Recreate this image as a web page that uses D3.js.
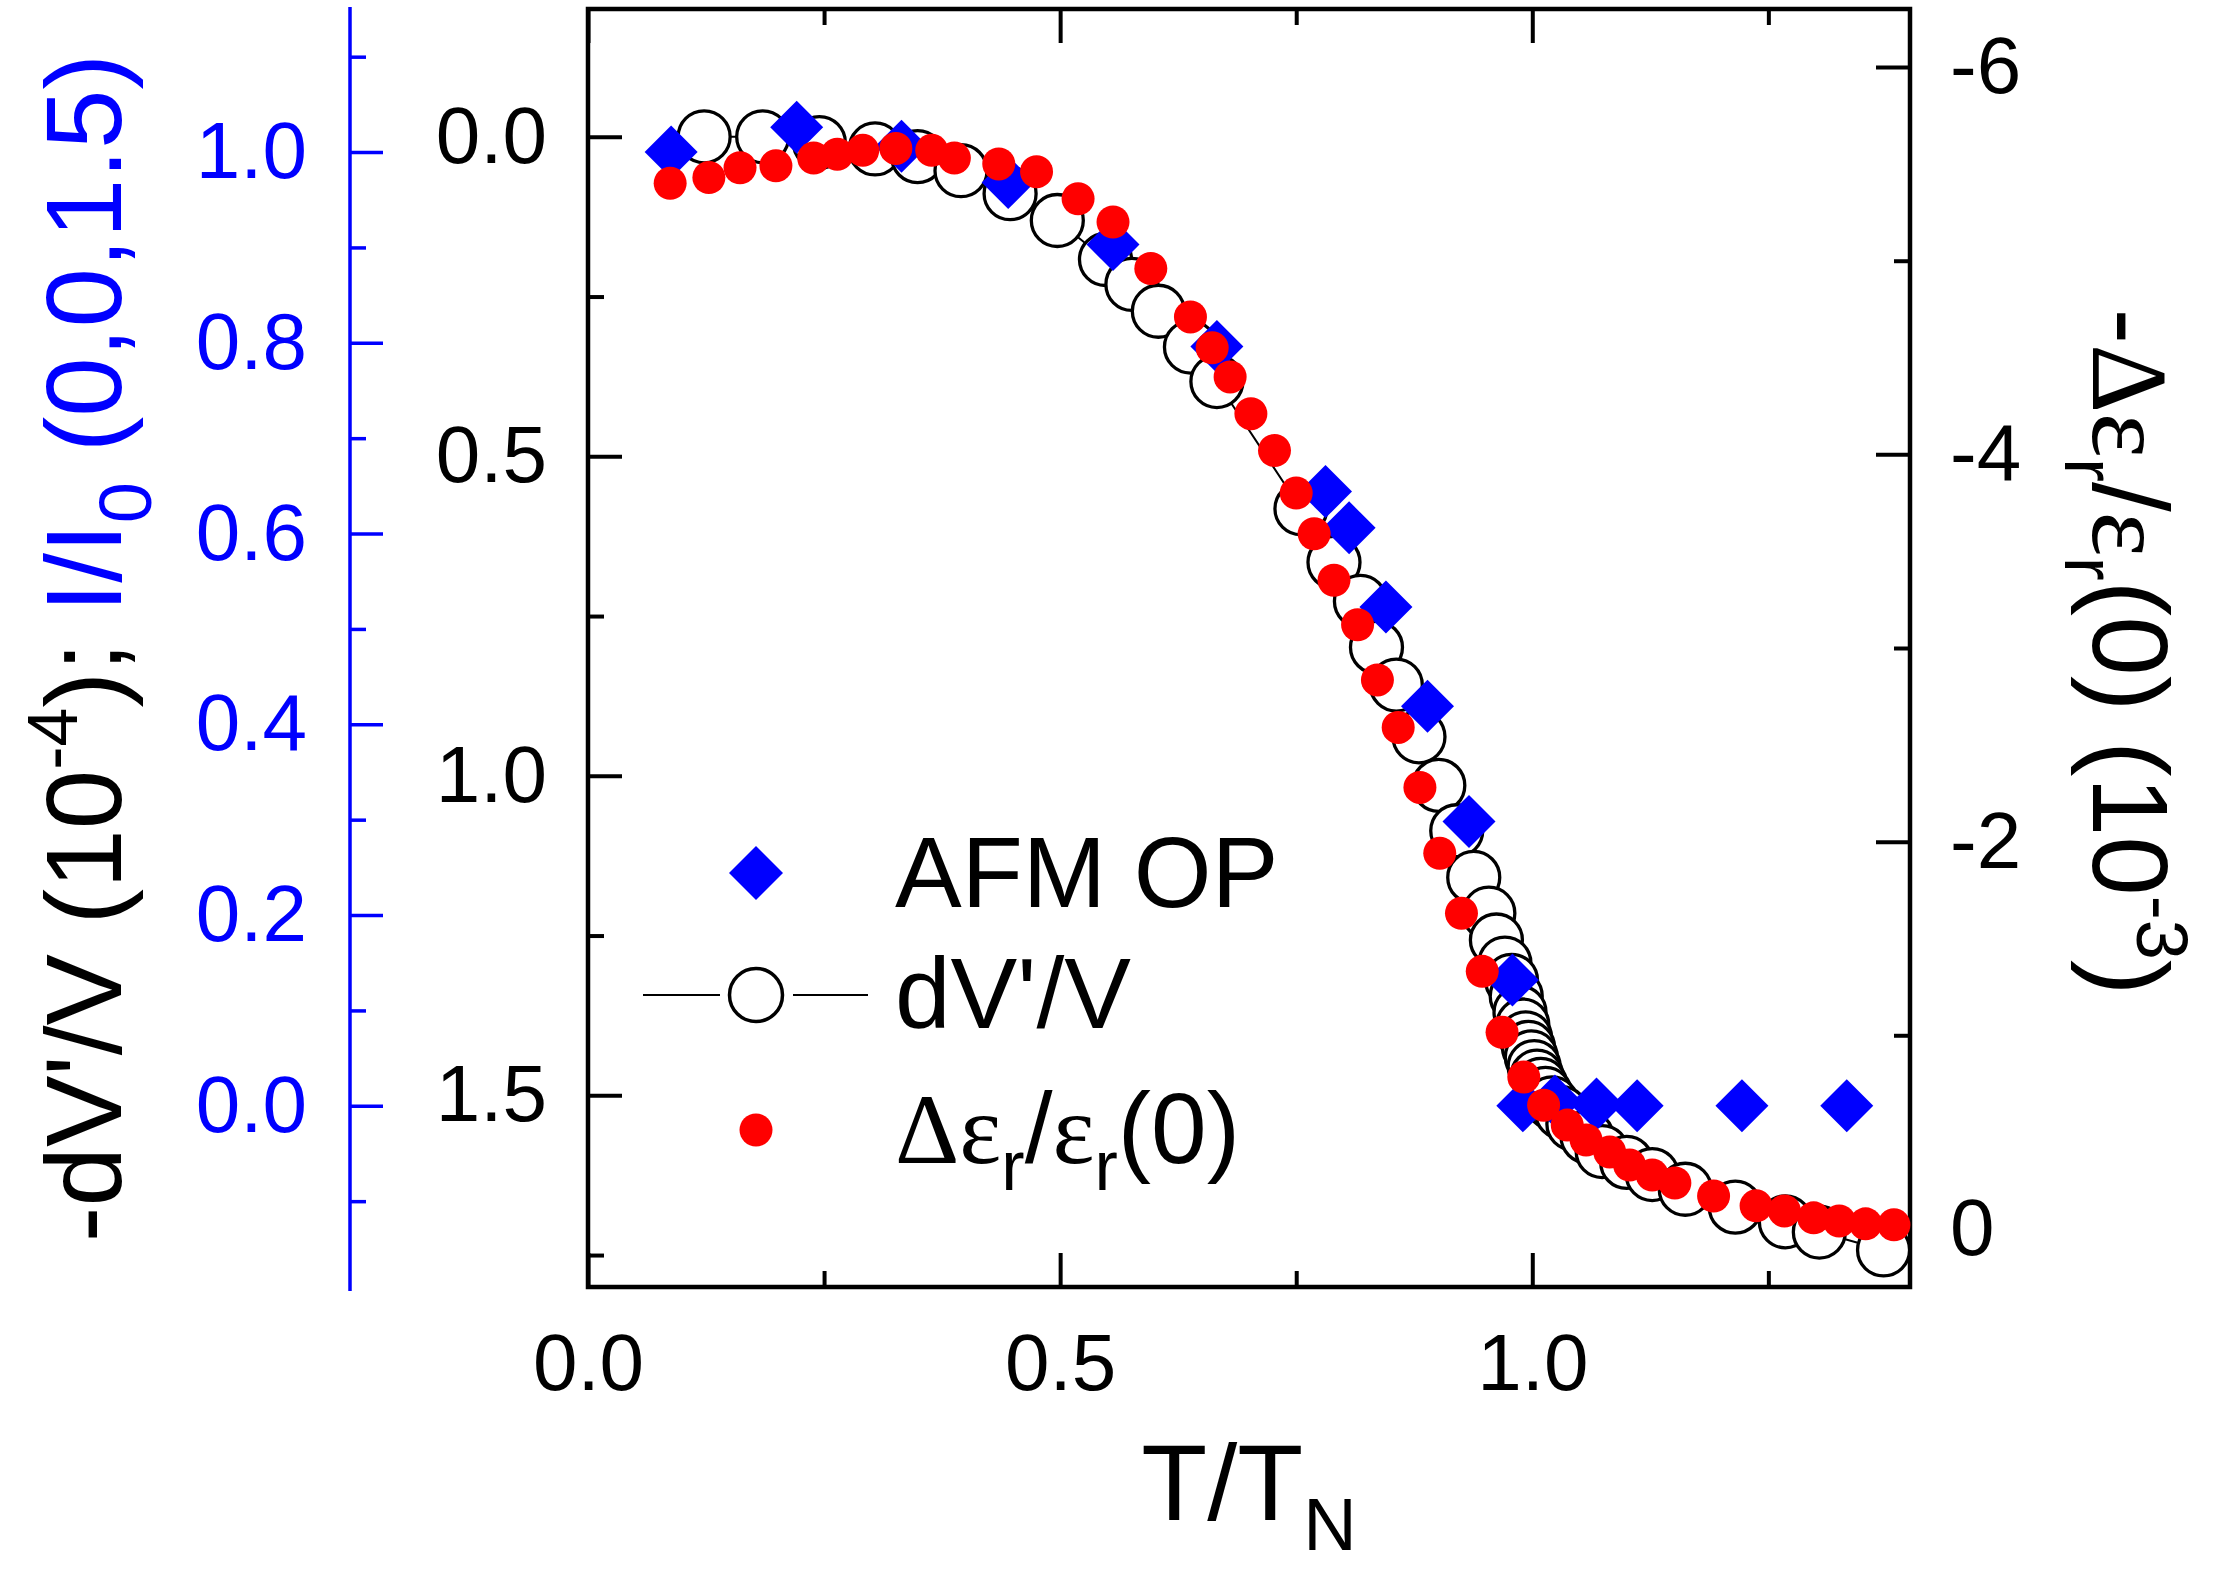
<!DOCTYPE html>
<html>
<head>
<meta charset="utf-8">
<script src="https://cdn.jsdelivr.net/npm/d3@7"></script>
<style>
  html, body { margin: 0; padding: 0; background: #fff; }
  text { white-space: pre; }
</style>
</head>
<body>
<svg id="chart" width="2214" height="1573"></svg>
<script>
// ---------------- data ----------------
// dV'/V  (open circles + line), left black axis: -dV'/V (10^-4)
const dvT   = [0.123,0.185,0.245,0.304,0.349,0.395,0.447,0.497,0.548,0.576,
               0.604,0.638,0.666,0.755,0.790,0.818,0.835,0.856,0.880,0.901,
               0.920,0.938,0.954,0.962,0.971,0.978,0.983,0.987,0.990,0.993,
               0.996,0.999,1.002,1.005,1.009,1.014,1.021,1.031,1.043,1.058,
               1.074,1.100,1.127,1.162,1.215,1.268,1.304,1.372];
const dvVal = [0.000,0.000,0.009,0.019,0.031,0.053,0.089,0.131,0.192,0.231,
               0.273,0.329,0.383,0.582,0.666,0.727,0.799,0.858,0.939,1.015,
               1.086,1.159,1.215,1.257,1.293,1.320,1.345,1.370,1.390,1.410,
               1.425,1.440,1.455,1.470,1.483,1.497,1.512,1.527,1.545,1.565,
               1.588,1.605,1.624,1.647,1.675,1.698,1.714,1.742];

// AFM OP (blue diamonds), blue axis: I/I0 (0,0,1.5)
const afmT   = [0.088,0.221,0.332,0.445,0.556,0.666,0.781,0.806,0.845,0.889,
                0.933,0.979,0.990,1.024,1.068,1.111,1.222,1.333];
const afmVal = [1.000,1.026,1.006,0.968,0.903,0.796,0.644,0.606,0.523,0.419,
                0.298,0.132,0.000,0.005,0.002,0.000,0.000,0.000];

// Δε_r/ε_r(0) (red dots), right axis (10^-3)
const epsT   = [0.087,0.128,0.161,0.199,0.239,0.264,0.291,0.326,0.364,0.388,
                0.435,0.475,0.519,0.556,0.596,0.638,0.661,0.680,0.702,0.727,
                0.750,0.769,0.790,0.815,0.836,0.858,0.881,0.902,0.925,0.947,
                0.968,0.991,1.012,1.037,1.057,1.082,1.103,1.127,1.151,1.192,
                1.237,1.267,1.298,1.325,1.353,1.383];
const epsVal = [-5.40,-5.43,-5.48,-5.49,-5.53,-5.55,-5.57,-5.58,-5.57,-5.53,
                -5.50,-5.46,-5.32,-5.20,-4.96,-4.71,-4.55,-4.40,-4.21,-4.02,
                -3.80,-3.59,-3.35,-3.12,-2.835,-2.59,-2.28,-1.94,-1.63,-1.33,
                -1.015,-0.784,-0.639,-0.536,-0.459,-0.397,-0.330,-0.278,-0.237,-0.170,
                -0.119,-0.093,-0.057,-0.041,-0.026,-0.021];

// ticks
const xMajor = [0, 0.5, 1.0];
const xMajorLabels = ["0.0", "0.5", "1.0"];
const xMinor = [0.25, 0.75, 1.25];
const leftMajor = [0, 0.5, 1.0, 1.5];
const leftMajorLabels = ["0.0", "0.5", "1.0", "1.5"];
const leftMinor = [0.25, 0.75, 1.25, 1.75];
const blueMajor = [0, 0.2, 0.4, 0.6, 0.8, 1.0];
const blueMajorLabels = ["0.0", "0.2", "0.4", "0.6", "0.8", "1.0"];
const blueMinor = [-0.1, 0.1, 0.3, 0.5, 0.7, 0.9, 1.1];
const rightMajor = [-6, -4, -2, 0];
const rightMajorLabels = ["-6", "-4", "-2", "0"];
const rightMinor = [-5, -3, -1];

const legendLabels = ["AFM OP", "dV'/V", "Δε_r/ε_r(0)"];

// ---------------- layout ----------------
const SANS = "'Liberation Sans', Arial, Helvetica, sans-serif";
const SERIF = "'Liberation Serif', 'Times New Roman', serif";
const BLUE = "#0000ff", RED = "#ff0000";
const P = { l: 588, r: 1910, t: 9, b: 1287 };

const svg = d3.select("#chart");
svg.append("rect").attr("width", 2214).attr("height", 1573).attr("fill", "#fff");

const x  = d3.scaleLinear().domain([0, 1.4]).range([P.l, P.r]);
const yL = d3.scaleLinear().domain([-0.2, 1.8]).range([P.t, P.b]);
const yB = d3.scaleLinear().domain([-0.19, 1.15]).range([P.b, P.t]);
const yR = d3.scaleLinear().domain([-6.3, 0.3]).range([P.t, P.b]);

function fmtFrom(vals, labels) {
  return v => { const i = vals.findIndex(a => Math.abs(a - v) < 1e-9); return i >= 0 ? labels[i] : ""; };
}
function styleAxis(g, color, sw) {
  g.select(".domain").remove();
  g.selectAll(".tick line").attr("stroke", color).attr("stroke-width", sw);
  g.selectAll(".tick text").attr("fill", color).attr("font-size", 80).attr("font-family", SANS);
  g.attr("font-size", 80).attr("font-family", SANS);
}

// ---- blue offset axis ----
const BX = 350;
svg.append("line").attr("x1", BX).attr("x2", BX).attr("y1", 7).attr("y2", 1291)
  .attr("stroke", BLUE).attr("stroke-width", 3.5);
svg.append("g").attr("transform", `translate(${BX},0)`)
  .call(d3.axisLeft(yB).tickValues(blueMajor).tickSize(-33).tickPadding(43)
        .tickFormat(fmtFrom(blueMajor, blueMajorLabels)))
  .call(g => styleAxis(g, BLUE, 3.5));
svg.append("g").attr("transform", `translate(${BX},0)`)
  .call(d3.axisLeft(yB).tickValues(blueMinor).tickSize(-16).tickFormat(""))
  .call(g => styleAxis(g, BLUE, 3.5));

// ---- frame axes ----
const TS = 4;
svg.append("g").attr("transform", `translate(0,${P.b})`)
  .call(d3.axisBottom(x).tickValues(xMajor).tickSize(-34).tickPadding(46)
        .tickFormat(fmtFrom(xMajor, xMajorLabels)))
  .call(g => styleAxis(g, "#000", TS));
svg.append("g").attr("transform", `translate(0,${P.b})`)
  .call(d3.axisBottom(x).tickValues(xMinor).tickSize(-16).tickFormat(""))
  .call(g => styleAxis(g, "#000", TS));
svg.append("g").attr("transform", `translate(0,${P.t})`)
  .call(d3.axisTop(x).tickValues(xMajor).tickSize(-34).tickFormat(""))
  .call(g => styleAxis(g, "#000", TS));
svg.append("g").attr("transform", `translate(0,${P.t})`)
  .call(d3.axisTop(x).tickValues(xMinor).tickSize(-16).tickFormat(""))
  .call(g => styleAxis(g, "#000", TS));
svg.append("g").attr("transform", `translate(${P.l},0)`)
  .call(d3.axisLeft(yL).tickValues(leftMajor).tickSize(-34).tickPadding(41)
        .tickFormat(fmtFrom(leftMajor, leftMajorLabels)))
  .call(g => styleAxis(g, "#000", TS));
svg.append("g").attr("transform", `translate(${P.l},0)`)
  .call(d3.axisLeft(yL).tickValues(leftMinor).tickSize(-16).tickFormat(""))
  .call(g => styleAxis(g, "#000", TS));
svg.append("g").attr("transform", `translate(${P.r},0)`)
  .call(d3.axisRight(yR).tickValues(rightMajor).tickSize(-34).tickPadding(40)
        .tickFormat(fmtFrom(rightMajor, rightMajorLabels)))
  .call(g => styleAxis(g, "#000", TS));
svg.append("g").attr("transform", `translate(${P.r},0)`)
  .call(d3.axisRight(yR).tickValues(rightMinor).tickSize(-16).tickFormat(""))
  .call(g => styleAxis(g, "#000", TS));

svg.append("rect").attr("x", P.l).attr("y", P.t).attr("width", P.r - P.l).attr("height", P.b - P.t)
  .attr("fill", "none").attr("stroke", "#000").attr("stroke-width", 4.5);

// ---------------- data marks ----------------
const dvData  = dvT.map((t, i) => ({ t, v: dvVal[i] }));
const afmData = afmT.map((t, i) => ({ t, v: afmVal[i] }));
const epsData = epsT.map((t, i) => ({ t, v: epsVal[i] }));

const CR = 26, DH = 26.5, RR = 16.5;
const diamond = h => `M0,${-h}L${h},0L0,${h}L${-h},0Z`;

svg.append("path").datum(dvData)
  .attr("d", d3.line().x(d => x(d.t)).y(d => yL(d.v)))
  .attr("fill", "none").attr("stroke", "#000").attr("stroke-width", 2);
svg.append("g").selectAll("circle").data(dvData).join("circle")
  .attr("cx", d => x(d.t)).attr("cy", d => yL(d.v)).attr("r", CR)
  .attr("fill", "#fff").attr("stroke", "#000").attr("stroke-width", 3.3);
svg.append("g").selectAll("path").data(afmData).join("path")
  .attr("transform", d => `translate(${x(d.t)},${yB(d.v)})`)
  .attr("d", diamond(DH)).attr("fill", BLUE);
svg.append("g").selectAll("circle").data(epsData).join("circle")
  .attr("cx", d => x(d.t)).attr("cy", d => yR(d.v)).attr("r", RR)
  .attr("fill", RED);

// ---------------- legend ----------------
const LX = 756, LTX = 895;
const legY = [873, 995, 1130];
const legBase = [907, 1028, 1163];
svg.append("path").attr("transform", `translate(${LX},${legY[0]})`).attr("d", diamond(27)).attr("fill", BLUE);
svg.append("line").attr("x1", 643).attr("x2", 720).attr("y1", legY[1]).attr("y2", legY[1]).attr("stroke", "#000").attr("stroke-width", 2);
svg.append("line").attr("x1", 793).attr("x2", 868).attr("y1", legY[1]).attr("y2", legY[1]).attr("stroke", "#000").attr("stroke-width", 2);
svg.append("circle").attr("cx", LX).attr("cy", legY[1]).attr("r", 26.5).attr("fill", "#fff").attr("stroke", "#000").attr("stroke-width", 3.5);
svg.append("circle").attr("cx", LX).attr("cy", legY[2]).attr("r", RR).attr("fill", RED);

function richText(parent, parts, attrs) {
  const t = parent.append("text");
  Object.entries(attrs).forEach(([k, v]) => t.attr(k, v));
  let shift = 0;
  parts.forEach(p => {
    const s = t.append("tspan").text(p.s);
    if (p.font) s.attr("font-family", p.font);
    if (p.size) s.attr("font-size", p.size);
    if (p.fill) s.attr("fill", p.fill);
    const target = p.dy || 0;
    if (target !== shift) { s.attr("dy", target - shift); shift = target; }
  });
  return t;
}

richText(svg, [{ s: legendLabels[0] }], { x: LTX, y: legBase[0], "font-family": SANS, "font-size": 100, fill: "#000" });
richText(svg, [{ s: legendLabels[1] }], { x: LTX, y: legBase[1], "font-family": SANS, "font-size": 100, fill: "#000" });
richText(svg, [
  { s: "Δ", font: SERIF }, { s: "ε", font: SERIF },
  { s: "r", size: 70, dy: 27 }, { s: "/" },
  { s: "ε", font: SERIF }, { s: "r", size: 70, dy: 27 }, { s: "(0)" }
], { x: LTX, y: legBase[2], "font-family": SANS, "font-size": 100, fill: "#000" });

// ---------------- axis titles ----------------
// x title
richText(svg, [{ s: "T/T" }, { s: "N", size: 74, dy: 30 }],
  { x: (P.l + P.r) / 2, y: 1520, "font-family": SANS, "font-size": 108, fill: "#000", "text-anchor": "middle" });

// left title (rotated -90)
const lt = svg.append("g").attr("transform", "translate(121,648) rotate(-90)");
richText(lt, [
  { s: "-dV'/V (10" }, { s: "-4", size: 70, dy: -44 }, { s: "); " },
  { s: "I/I", fill: BLUE }, { s: "0", size: 74, dy: 30, fill: BLUE }, { s: " (0,0,1.5)", fill: BLUE }
], { x: 0, y: 0, "font-family": SANS, "font-size": 107, fill: "#000", "text-anchor": "middle" });

// right title (rotated +90)
const rt = svg.append("g").attr("transform", "translate(2093,652) rotate(90)");
richText(rt, [
  { s: "-" }, { s: "Δ", font: SERIF }, { s: "ε", font: SERIF }, { s: "r", size: 72, dy: 28 },
  { s: "/" }, { s: "ε", font: SERIF }, { s: "r", size: 72, dy: 28 },
  { s: "(0) (10" }, { s: "-3", size: 72, dy: -44 }, { s: ")" }
], { x: 0, y: 0, "font-family": SANS, "font-size": 107, fill: "#000", "text-anchor": "middle" });
</script>
</body>
</html>
